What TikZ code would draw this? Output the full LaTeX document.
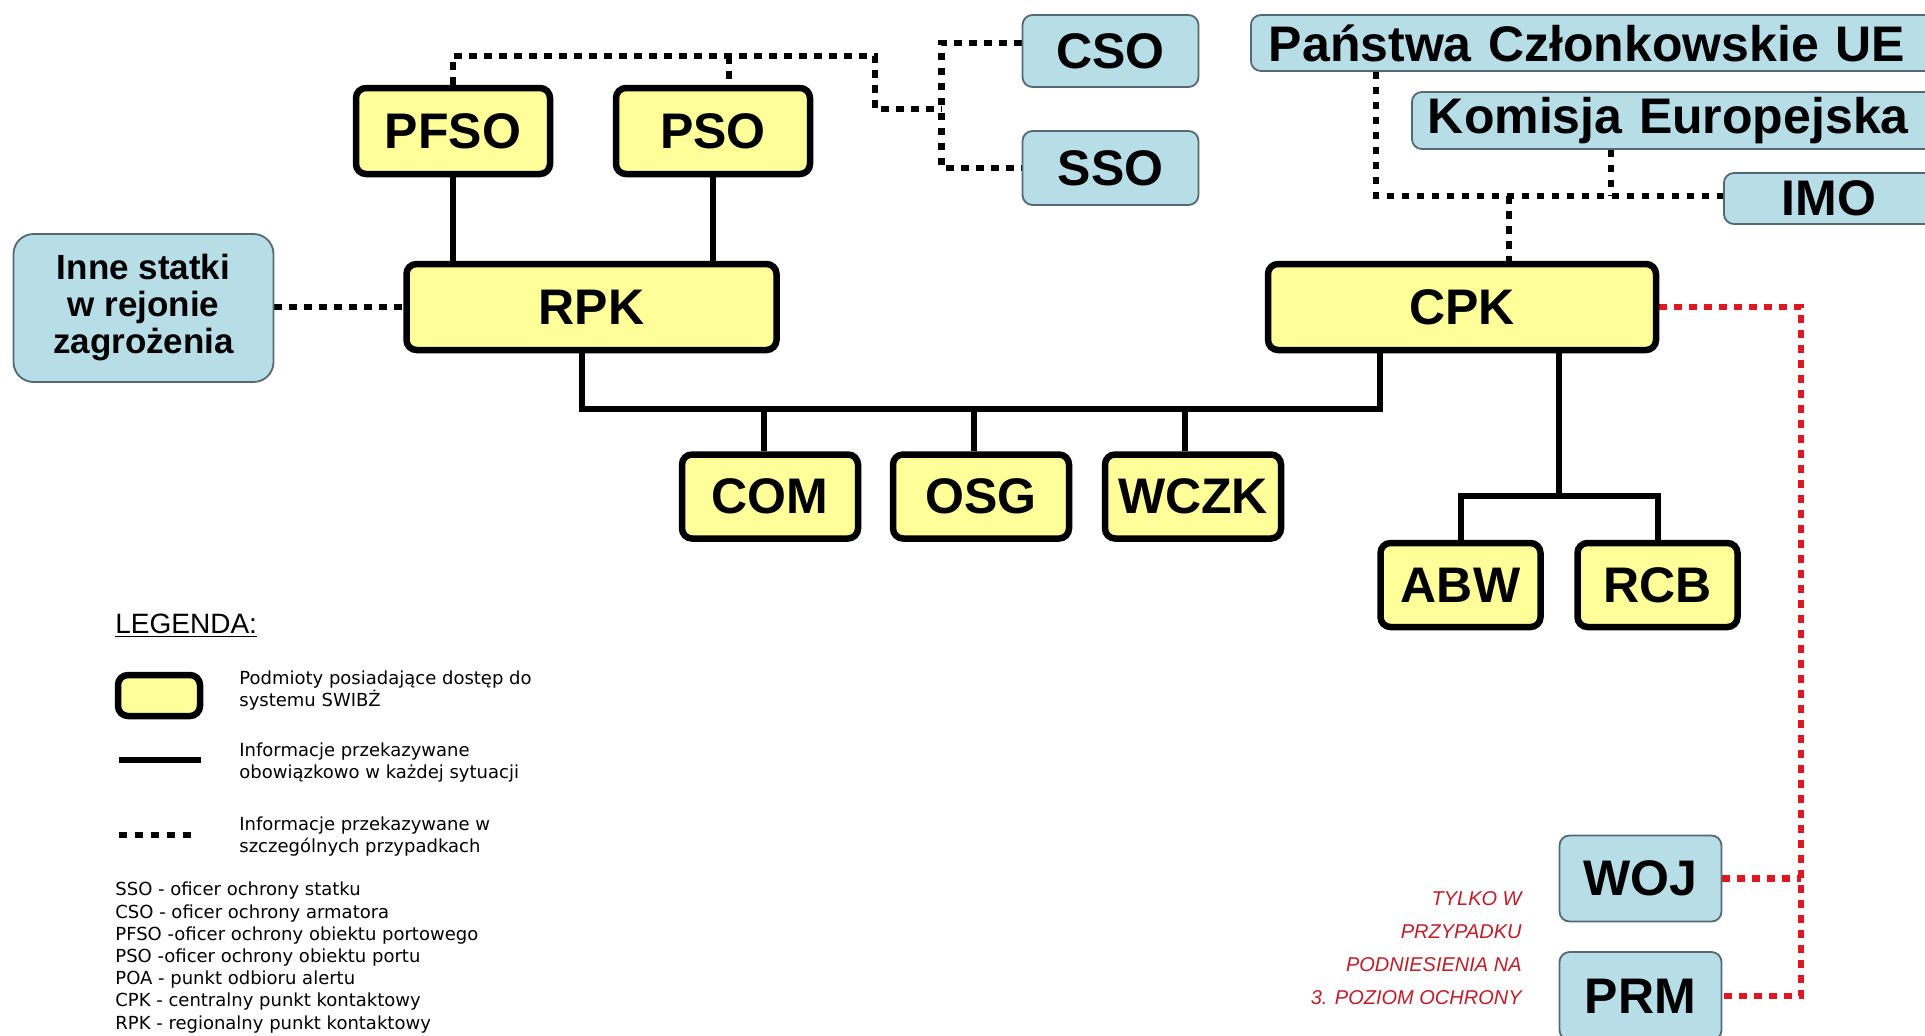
\documentclass[tikz,border=0pt]{standalone}
\usepackage{fontspec}
\setmainfont{Liberation Sans}
\newfontfamily\legfont{DejaVu Sans}
\usetikzlibrary{backgrounds}
\definecolor{ylw}{RGB}{255,255,153}
\definecolor{lblue}{RGB}{183,221,230}
\definecolor{bdr}{RGB}{85,105,115}
\definecolor{redc}{RGB}{222,24,32}
\definecolor{notec}{RGB}{190,30,40}
\tikzset{
  ybox/.style={draw=black, line width=3.25pt, fill=ylw, rounded corners=5pt, inner sep=0pt,
    font=\bfseries\fontsize{25}{28}\selectfont},
  bbox/.style={draw=bdr, line width=0.9pt, fill=lblue, rounded corners=5pt, inner sep=0pt,
    font=\bfseries\fontsize{25}{28}\selectfont},
  solidln/.style={line width=3pt},
  dotln/.style={line width=3.25pt, dash pattern=on 3.75pt off 3.75pt},
  reddot/.style={dotln, draw=redc},
  legtext/.style={anchor=west, align=left, inner sep=0pt, font=\legfont\fontsize{9}{11}\selectfont},
}
\begin{document}
\begin{tikzpicture}[x=0.5pt, y=-0.5pt]
\useasboundingbox (0,0) rectangle (1925,1035);
\clip (0,0) rectangle (1925,1035);

% yellow boxes
\node[ybox, minimum width=97pt, minimum height=43pt] (pfso) at (453,131) {PFSO};
\node[ybox, minimum width=97pt, minimum height=43pt] (pso) at (713,131) {PSO};
\node[ybox, minimum width=185pt, minimum height=43pt] (rpk) at (591.5,307) {RPK};
\node[ybox, minimum width=194pt, minimum height=43pt] (cpk) at (1462,307) {CPK};
\node[ybox, minimum width=88pt, minimum height=42pt] (com) at (770,496.5) {COM};
\node[ybox, minimum width=88pt, minimum height=42pt] (osg) at (981,496.5) {OSG};
\node[ybox, minimum width=88pt, minimum height=42pt] (wczk) at (1193,496.5) {WCZK};
\node[ybox, minimum width=80pt, minimum height=42pt] (abw) at (1460.5,585) {ABW};
\node[ybox, minimum width=80pt, minimum height=42pt] (rcb) at (1657.5,585) {RCB};

% blue boxes
\node[bbox, minimum width=88pt, minimum height=36pt] (cso) at (1110.5,51) {CSO};
\node[bbox, minimum width=88pt, minimum height=37pt] (sso) at (1110.5,168) {SSO};
\node[bbox, anchor=west, text width=330pt, align=left, inner xsep=9pt, minimum height=28pt] (pcu) at (1250,43) {Państwa Członkowskie UE};
\node[bbox, anchor=west, text width=270pt, align=left, inner xsep=8pt, minimum height=28.5pt] (ke) at (1411,120.5) {Komisja Europejska};
\node[bbox, anchor=west, text width=150pt, align=left, inner xsep=29pt, minimum height=25.5pt] (imo) at (1723,198.5) {IMO};
\node[bbox, rounded corners=10pt, minimum width=130pt, minimum height=74pt, align=center,
  font=\bfseries\fontsize{17.5}{18.5}\selectfont] (inne) at (143.5,308) {Inne statki\\w rejonie\\zagrożenia};
\node[bbox, minimum width=81pt, minimum height=43pt] (woj) at (1640.5,878.5) {WOJ};
\node[bbox, minimum width=81pt, minimum height=44pt] (prm) at (1640.5,996) {PRM};

% red note
\node[anchor=east, align=right, inner sep=0pt, text=notec,
  font=\itshape\fontsize{10}{16.5}\selectfont] (note) at (1522,948)
  {TYLKO W\\PRZYPADKU\\PODNIESIENIA NA\\3. POZIOM OCHRONY};

% coordinates
\coordinate (tl) at (875,56);
\coordinate (psx) at (729,56);
\coordinate (jn) at (941.5,109);
\coordinate (cj) at (941.5,43);
\coordinate (sj) at (941.5,168);
\coordinate (pcx) at (1376,196);
\coordinate (kex) at (1611,196);
\coordinate (hj) at (1509,196);
\coordinate (rx) at (1801,307);
\coordinate (bl) at (582,409);
\coordinate (br) at (1380,409);
\coordinate (b1) at (764,409);
\coordinate (b2) at (974,409);
\coordinate (b3) at (1185,409);
\coordinate (cd) at (1559,496);

\begin{scope}[on background layer]
  \fill[white] (0,0) rectangle (1925,1035);
  % solid
  \draw[solidln] (pfso.south) -- (pfso.south |- rpk.north);
  \draw[solidln] (pso.south) -- (pso.south |- rpk.north);
  \draw[solidln] (rpk.south -| bl) -- (bl) -- (br) -- (br |- cpk.south);
  \draw[solidln] (b1) -- (b1 |- com.north);
  \draw[solidln] (b2) -- (b2 |- osg.north);
  \draw[solidln] (b3) -- (b3 |- wczk.north);
  \draw[solidln] (cd |- cpk.south) -- (cd);
  \draw[solidln] (abw.north) |- (rcb.north |- cd) -- (rcb.north);
  % dotted black
  \draw[dotln] (inne.east |- rpk.west) -- (rpk.west);
  \draw[dotln] (pfso.north) |- (tl) |- (jn);
  \draw[dotln] (psx) -- (psx |- pso.north);
  \draw[dotln] (cso.west |- cj) -| (sj) -- (sso.west |- sj);
  \draw[dotln] (pcu.south -| pcx) -- (pcx) -- (imo.west |- pcx);
  \draw[dotln] (ke.south -| kex) -- (kex);
  \draw[dotln] (hj) -- (hj |- cpk.north);
  % dotted red
  \draw[reddot] (cpk.east) -- (rx) -- (rx |- prm.east) -- (prm.east);
  \draw[reddot] (woj.east) -- (woj.east -| rx);
\end{scope}

% legend
\node[anchor=west, inner sep=0pt, font=\fontsize{14}{16}\selectfont] (leg) at (115,626) {\underline{LEGENDA:}};
\node[ybox, minimum width=41pt, minimum height=20.5pt] (lbox) at (159,695.5) {};
\draw[solidln] (119,760) -- (201,760);
\draw[dotln, dash pattern=on 3.75pt off 4.25pt] (119,835) -- (198,835);
\node[legtext] (l1) at (239,690.5) {Podmioty posiadające dostęp do\\systemu SWIBŻ};
\node[legtext] (l2) at (239,763) {Informacje przekazywane\\obowiązkowo w każdej sytuacji};
\node[legtext] (l3) at (239,837) {Informacje przekazywane w\\szczególnych przypadkach};
\node[legtext, font=\legfont\fontsize{9}{11.1}\selectfont] (abbr) at (115,957.5)
  {SSO - oficer ochrony statku\\
   CSO - oficer ochrony armatora\\
   PFSO -oficer ochrony obiektu portowego\\
   PSO -oficer ochrony obiektu portu\\
   POA - punkt odbioru alertu\\
   CPK - centralny punkt kontaktowy\\
   RPK - regionalny punkt kontaktowy};
\end{tikzpicture}
\end{document}
